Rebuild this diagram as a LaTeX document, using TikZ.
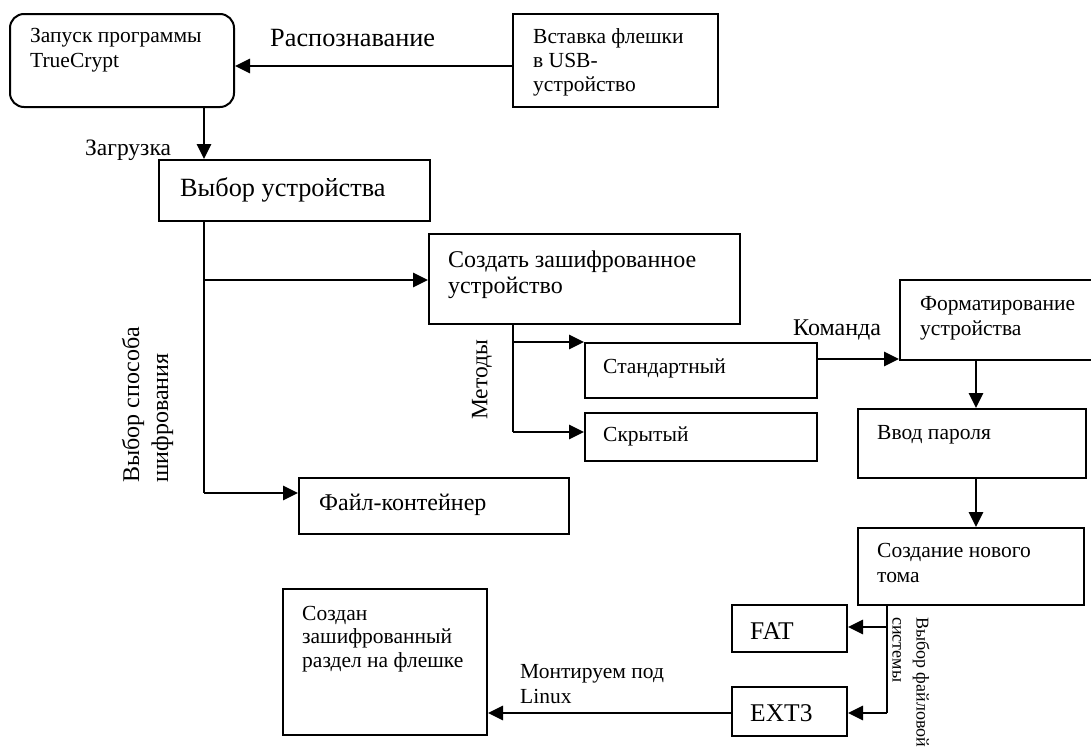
\documentclass[tikz,border=0pt]{standalone}
\usepackage{fontspec}
\setmainfont{Liberation Serif}
\usetikzlibrary{arrows.meta}
\newcommand\myfs[2]{\fontsize{#1}{#2}\selectfont}
\begin{document}
\begin{tikzpicture}[x=1pt,y=1pt,
  box/.style={draw, line width=2pt, inner sep=0pt, anchor=north west},
  txt/.style={inner sep=0pt, anchor=base west, align=left},
  sm/.style={font=\myfs{21.5}{25}},
  lg/.style={font=\myfs{26.3}{27}},
  arr/.style={line width=2.9pt, -{Triangle[length=15pt,width=14pt]}},
  ln/.style={line width=2.7pt},
]
\useasboundingbox (0,0) rectangle (1091,-747);

% boxes
\node[box, rounded corners=14pt, minimum width=224pt, minimum height=93pt] (A) at (9,-13) {};
\node[box, minimum width=205pt, minimum height=93pt] (B) at (512,-13) {};
\node[box, minimum width=271pt, minimum height=61pt] (C) at (158,-159) {};
\node[box, minimum width=311pt, minimum height=90pt] (D) at (428,-233) {};
\node[box, minimum width=232pt, minimum height=55pt] (Std) at (584,-342) {};
\node[box, minimum width=232pt, minimum height=48pt] (Hid) at (584,-412) {};
\node[box, minimum width=270pt, minimum height=56pt] (File) at (298,-477) {};
\node[box, minimum width=196pt, minimum height=80pt] (Fmt) at (899,-279) {};
\node[box, minimum width=228pt, minimum height=69pt] (Pwd) at (857,-408) {};
\node[box, minimum width=226pt, minimum height=77pt] (New) at (857,-527) {};
\node[box, minimum width=115pt, minimum height=47pt] (FAT) at (731,-604) {};
\node[box, minimum width=115pt, minimum height=49pt] (EXT) at (731,-686) {};
\node[box, minimum width=204pt, minimum height=146pt] (Fin) at (282,-588) {};

% texts (base = baseline of the last line)
\node[txt, sm] (tA) at (30,-67) {Запуск программы\\TrueCrypt};
\node[txt, lg] (tRec) at (270,-46) {Распознавание};
\node[txt, font=\myfs{21.5}{24}] (tB) at (533,-91) {Вставка флешки\\в USB-\\устройство};
\node[txt, font=\myfs{23.5}{25}] (tLoad) at (85,-155) {Загрузка};
\node[txt, lg] (tC) at (180,-196) {Выбор устройства};
\node[txt, font=\myfs{24}{26}] (tD) at (448,-293) {Создать зашифрованное\\устройство};
\node[rotate=90, font=\myfs{24}{29}, align=left, inner sep=0pt, anchor=west] (tEnc) at (147.5,-483) {Выбор способа\\шифрования};
\node[rotate=90, font=\myfs{23.5}{26}, inner sep=0pt] (tMeth) at (482,-380) {Методы};
\node[txt, sm] (tStd) at (603,-373) {Стандартный};
\node[txt, sm] (tHid) at (603,-441) {Скрытый};
\node[txt, font=\myfs{24}{26}] (tFile) at (319,-510) {Файл-контейнер};
\node[txt, font=\myfs{24}{26}] (tCmd) at (793,-335) {Команда};
\node[txt, sm] (tFmt) at (920,-335) {Форматирование\\устройства};
\node[txt, sm] (tPwd) at (877,-439) {Ввод пароля};
\node[txt, sm] (tNew) at (877,-582) {Создание нового\\тома};
\node[txt, font=\myfs{25.5}{27}] (tFAT) at (750,-639) {FAT};
\node[txt, font=\myfs{25.5}{27}] (tEXT) at (750,-721) {EXT3};
\node[rotate=-90, font=\myfs{18}{24}, align=left, inner sep=0pt, anchor=west] (tFS) at (911,-617) {Выбор файловой\\системы};
\node[txt, font=\myfs{21.5}{23.5}] (tFin) at (302,-667) {Создан\\зашифрованный\\раздел на флешке};
\node[txt, sm] (tMnt) at (520,-703) {Монтируем под\\Linux};

% helper coordinates
\coordinate (trk) at (204,0);
\coordinate (jD) at (204,-280);
\coordinate (jF) at (204,-493);
\coordinate (mA) at (513,-342);
\coordinate (mB) at (513,-432);
\coordinate (kA) at (0,-359);
\coordinate (cV) at (976,0);
\coordinate (fA) at (887,-627);
\coordinate (fB) at (887,-713);
\coordinate (rA) at (0,-66);

% connectors
\draw[arr] (B.west |- rA) -- (A.east |- rA);
\draw[arr] (trk |- A.south) -- (trk |- C.north);
\draw[ln] (trk |- C.south) -- (jF);
\draw[arr] (jD) -- (jD -| D.west);
\draw[arr] (jF) -- (jF -| File.west);
\draw[ln] (mA |- D.south) -- (mB);
\draw[arr] (mA) -- (mA -| Std.west);
\draw[arr] (mB) -- (mB -| Hid.west);
\draw[arr] (Std.east |- kA) -- (Fmt.west |- kA);
\draw[arr] (cV |- Fmt.south) -- (cV |- Pwd.north);
\draw[arr] (cV |- Pwd.south) -- (cV |- New.north);
\draw[ln] (fA |- New.south) -- (fB);
\draw[arr] (fA) -- (fA -| FAT.east);
\draw[arr] (fB) -- (fB -| EXT.east);
\draw[arr] (EXT.west |- fB) -- (Fin.east |- fB);
\end{tikzpicture}
\end{document}
